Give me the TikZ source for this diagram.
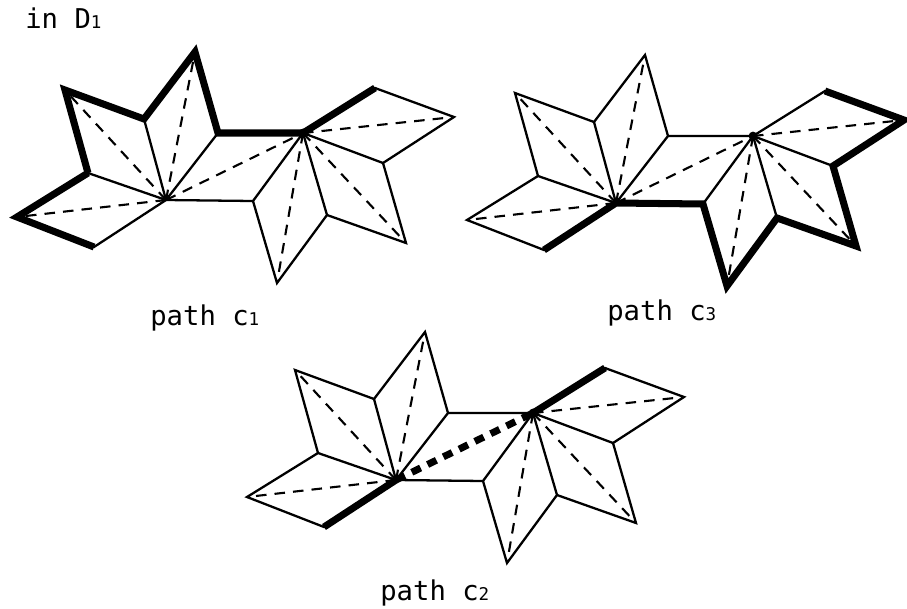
\documentclass[tikz,border=0pt]{standalone}
\usepackage{fontspec}
\setmonofont{DejaVu Sans Mono}
\usetikzlibrary{positioning}

\begin{document}
\begin{tikzpicture}[
  x=0.02cm,y=-0.02cm,
  rhbthin/.style={line width=1.3pt,line join=miter},
  rhbdash/.style={line width=1.2pt,dash pattern=on 6pt off 4.6pt},
  rhbthick/.style={line width=4pt,line join=miter,miter limit=10},
  rhbthickdash/.style={line width=4pt,dash pattern=on 5.6pt off 4.4pt},
  rhbhub/.style={circle,fill=black,inner sep=0pt,minimum size=5pt},
  pathlabel/.style={font=\ttfamily\fontsize{15.5}{15.5}\selectfont,anchor=base west,inner sep=0pt}
]
  \useasboundingbox (0,0) rectangle (907,609);

  % The same tile figure, three times
  \foreach \fig/\dx/\dy in {c1/0/0,c3/450/3,c2/230/280} {
    \begin{scope}[shift={(\dx,\dy)}]
      \coordinate (\fig L) at (166,200);
      \coordinate (\fig a) at (17,217);
      \coordinate (\fig b) at (94,247);
      \coordinate (\fig c) at (88,173);
      \coordinate (\fig d) at (65,90);
      \coordinate (\fig e) at (144,119);
      \coordinate (\fig f) at (195,52);
      \coordinate (\fig g) at (218,133);
      \node[rhbhub] (\fig R) at (303,133) {};
      \coordinate (\fig h) at (375,88);
      \coordinate (\fig i) at (454,117);
      \coordinate (\fig j) at (383,163);
      \coordinate (\fig k) at (406,243);
      \coordinate (\fig l) at (327,215);
      \coordinate (\fig m) at (277,283);
      \coordinate (\fig n) at (253,201);
    \end{scope}

    % Outlines and inner edges
    \draw[rhbthin] (\fig L) -- (\fig b) -- (\fig a) -- (\fig c) -- (\fig L);
    \draw[rhbthin] (\fig c) -- (\fig d) -- (\fig e) -- (\fig L);
    \draw[rhbthin] (\fig e) -- (\fig f) -- (\fig g) -- (\fig L);
    \draw[rhbthin] (\fig g) -- (\fig R.center) -- (\fig n) -- (\fig L);
    \draw[rhbthin] (\fig n) -- (\fig m) -- (\fig l) -- (\fig R.center);
    \draw[rhbthin] (\fig l) -- (\fig k) -- (\fig j) -- (\fig R.center);
    \draw[rhbthin] (\fig j) -- (\fig i) -- (\fig h) -- (\fig R.center);

    % Dashed diagonals
    \draw[rhbdash] (\fig L) -- (\fig a);
    \draw[rhbdash] (\fig L) -- (\fig d);
    \draw[rhbdash] (\fig L) -- (\fig f);
    \draw[rhbdash] (\fig R.center) -- (\fig i);
    \draw[rhbdash] (\fig R.center) -- (\fig k);
    \draw[rhbdash] (\fig R.center) -- (\fig m);
  }
  \draw[rhbdash] (c1L) -- (c1R.center);
  \draw[rhbdash] (c3L) -- (c3R.center);

  % Path c1
  \draw[rhbthick] (c1c) -- (c1a) -- (c1b);
  \draw[rhbthick] (c1c) -- (c1d) -- (c1e) -- (c1f) -- (c1g) -- (c1R.center) -- (c1h);

  % Path c3
  \draw[rhbthick] (c3b) -- (c3L) -- (c3n) -- (c3m) -- (c3l) -- (c3k) -- (c3j) -- (c3i) -- (c3h);

  % Path c2
  \draw[rhbthick] (c2b) -- (c2L);
  \draw[rhbthickdash] (c2L) -- (c2R.center);
  \draw[rhbthick] (c2R.center) -- (c2h);

  % Labels
  \node[pathlabel] (title) at (25,28) {in D{\fontsize{10}{10}\selectfont 1}};
  \node[pathlabel] (labelone) at (150,325) {path c{\fontsize{10}{10}\selectfont 1}};
  \node[pathlabel] (labelthree) at (607,320) {path c{\fontsize{10}{10}\selectfont 3}};
  \node[pathlabel] (labeltwo) at (380,600) {path c{\fontsize{10}{10}\selectfont 2}};
\end{tikzpicture}
\end{document}
